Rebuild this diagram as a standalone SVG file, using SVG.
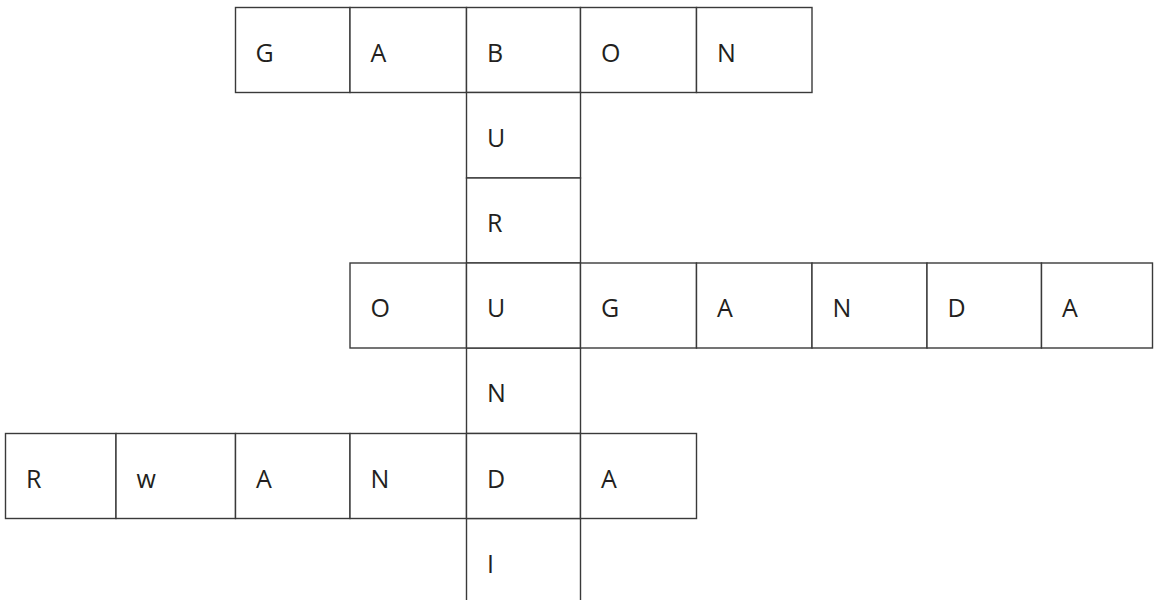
<svg xmlns="http://www.w3.org/2000/svg" width="1158" height="600" viewBox="0 0 1158 600">
<style>
rect.c{fill:#fff;stroke:#3a3a3a;stroke-width:1.4}
text{font-family:"Open Sans","Noto Sans","Liberation Sans",sans-serif;font-size:25px;fill:#231f20}
</style>
<rect width="1158" height="600" fill="#fff"/>
<g id="connectors"></g>
<g id="gabon">
<g id="c-g1"><rect class="c" x="235.5" y="7.5" width="114.5" height="85"/><text x="255.5" y="61.5">G</text></g>
<g id="c-a1"><rect class="c" x="350" y="7.5" width="116.5" height="85"/><text x="370.5" y="61.5">A</text></g>
<g id="c-b1"><rect class="c" x="466.5" y="7.5" width="114" height="85"/><text x="487" y="61.5">B</text></g>
<g id="c-o1"><rect class="c" x="580.5" y="7.5" width="116" height="85"/><text x="601" y="61.5">O</text></g>
<g id="c-n1"><rect class="c" x="696.5" y="7.5" width="115.5" height="85"/><text x="717" y="61.5">N</text></g>
</g>
<g id="burundi">
<g id="c-u2"><rect class="c" x="466.5" y="92.5" width="114" height="85.5"/><text x="487" y="147">U</text></g>
<g id="c-r3"><rect class="c" x="466.5" y="178" width="114" height="85"/><text x="487" y="232">R</text></g>
<g id="c-n5"><rect class="c" x="466.5" y="348" width="114" height="85.5"/><text x="487" y="402">N</text></g>
<g id="c-i7"><rect class="c" x="466.5" y="518.5" width="114" height="90"/><text x="487" y="573">I</text></g>
</g>
<g id="ouganda">
<g id="c-o4"><rect class="c" x="350" y="263" width="116.5" height="85"/><text x="370.5" y="317">O</text></g>
<g id="c-u4"><rect class="c" x="466.5" y="263" width="114" height="85"/><text x="487" y="317">U</text></g>
<g id="c-g4"><rect class="c" x="580.5" y="263" width="116" height="85"/><text x="601" y="317">G</text></g>
<g id="c-a4"><rect class="c" x="696.5" y="263" width="115.5" height="85"/><text x="717" y="317">A</text></g>
<g id="c-n4"><rect class="c" x="812" y="263" width="115" height="85"/><text x="832.5" y="317">N</text></g>
<g id="c-d4"><rect class="c" x="927" y="263" width="114.5" height="85"/><text x="947.5" y="317">D</text></g>
<g id="c-a4b"><rect class="c" x="1041.5" y="263" width="111" height="85"/><text x="1062" y="317">A</text></g>
</g>
<g id="rwanda">
<g id="c-r6"><rect class="c" x="5.5" y="433.5" width="110.5" height="85"/><text x="26" y="487.5">R</text></g>
<g id="c-w6"><rect class="c" x="116" y="433.5" width="119.5" height="85"/><text x="136.5" y="487.5">w</text></g>
<g id="c-a6"><rect class="c" x="235.5" y="433.5" width="114.5" height="85"/><text x="256" y="487.5">A</text></g>
<g id="c-n6"><rect class="c" x="350" y="433.5" width="116.5" height="85"/><text x="370.5" y="487.5">N</text></g>
<g id="c-d6"><rect class="c" x="466.5" y="433.5" width="114" height="85"/><text x="487" y="487.5">D</text></g>
<g id="c-a6b"><rect class="c" x="580.5" y="433.5" width="116" height="85"/><text x="601" y="487.5">A</text></g>
</g>
</svg>
